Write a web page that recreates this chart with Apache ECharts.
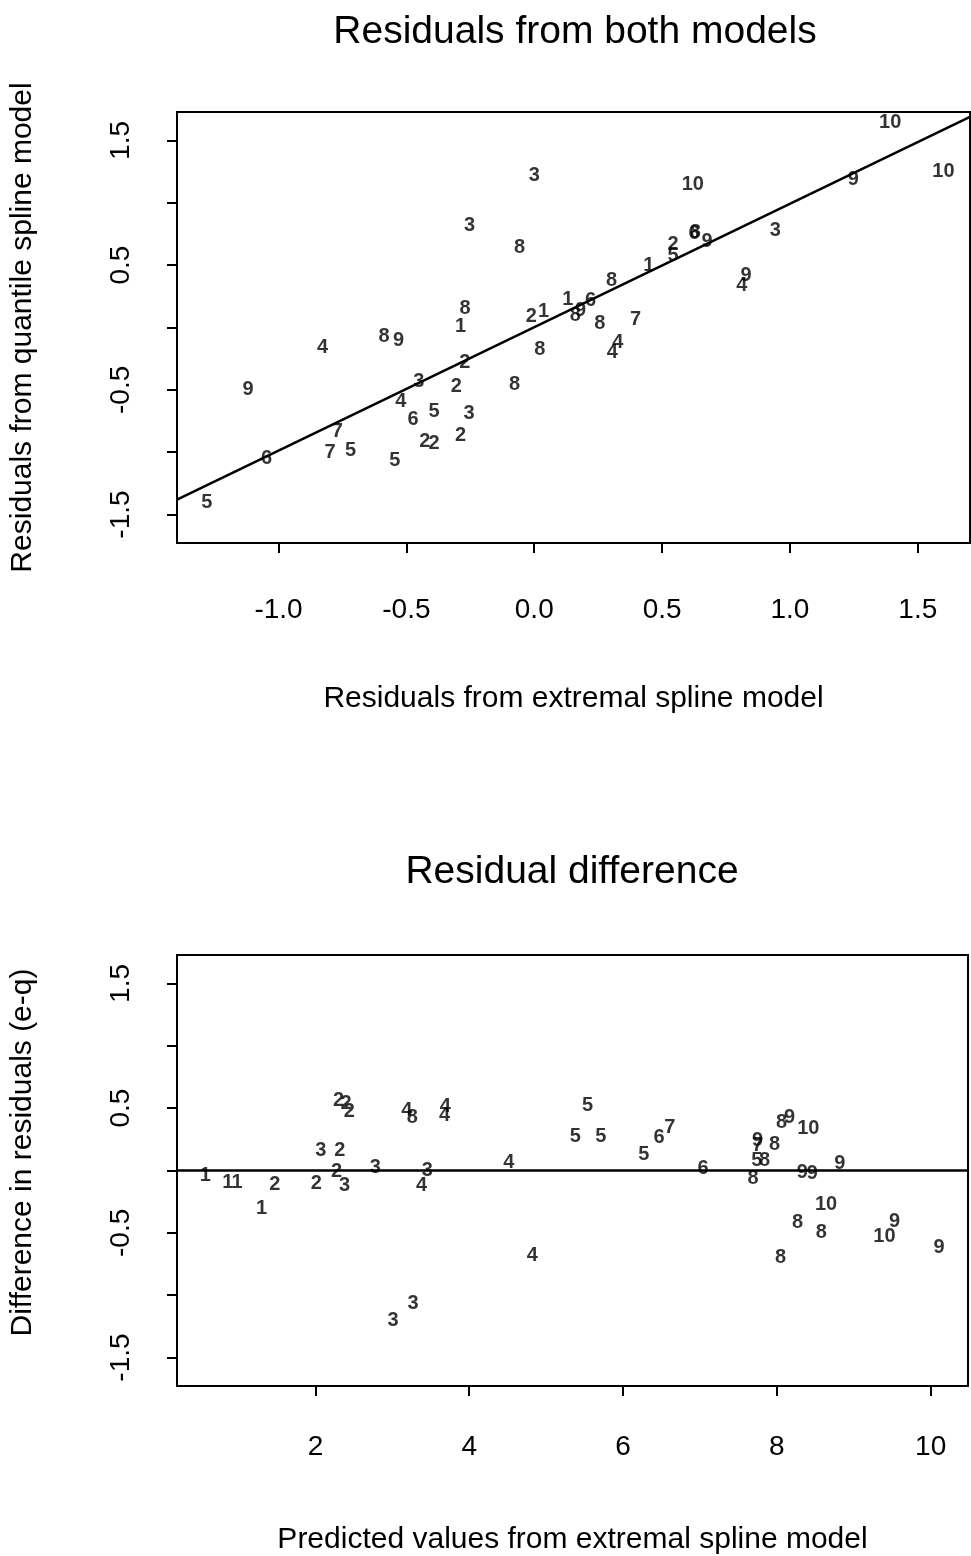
<!DOCTYPE html>
<html><head><meta charset="utf-8">
<script src="https://cdn.jsdelivr.net/npm/echarts@6/dist/echarts.min.js"></script>
<style>html,body{margin:0;padding:0;background:#fff}#c{width:971px;height:1556px}</style>
</head><body><div id="c"></div>
<script>
// ---- Top panel: residuals from both models ----
const topLabels = ["3","3","8","8","1","2","1","4","8","9","9","2","3","2","8","8","4","5","3","6","2","2","2","7","7","5","5","6","5","10","10","10","9","3","8","6","9","2","5","1","8","9","4","1","8","9","6","8","7","4","4"];
const topX = [0.0,-0.253,-0.057,-0.271,-0.288,-0.011,0.036,-0.828,-0.587,-0.531,-1.119,-0.272,-0.451,-0.305,-0.077,0.022,-0.522,-0.392,-0.255,-0.474,-0.428,-0.392,-0.288,-0.77,-0.798,-0.718,-0.545,-1.047,-1.28,1.392,1.60,0.62,1.248,0.943,0.63,0.625,0.676,0.543,0.543,0.448,0.302,0.828,0.812,0.131,0.161,0.181,0.22,0.256,0.396,0.327,0.305];
const topY = [1.22,0.82,0.645,0.155,0.01,0.09,0.13,-0.16,-0.075,-0.108,-0.496,-0.28,-0.434,-0.474,-0.456,-0.18,-0.59,-0.67,-0.689,-0.737,-0.911,-0.93,-0.866,-0.83,-1.0,-0.99,-1.07,-1.053,-1.407,1.642,1.25,1.146,1.19,0.777,0.764,0.755,0.688,0.664,0.576,0.495,0.38,0.415,0.334,0.228,0.093,0.134,0.214,0.035,0.067,-0.12,-0.2];
const topLineX = [-1.397, 1.704];
const topLineY = [-1.380, 1.688];
const topXTicks = [-1.0,-0.5,0.0,0.5,1.0,1.5];
const topYTicks = [-1.5,-1.0,-0.5,0.0,0.5,1.0,1.5];
const topYLabels = [-1.5,-0.5,0.5,1.5];

// ---- Bottom panel: residual difference ----
const botLabels = ["1","1","1","2","1","2","3","2","2","3","2","2","2","3","4","8","4","4","3","4","3","3","4","4","5","5","5","5","6","7","6","8","9","10","9","7","8","5","8","8","9","9","9","10","8","8","9","10","9","8"];
const botX = [0.568,0.862,0.98,1.473,1.3,2.01,2.07,2.317,2.274,2.38,2.3,2.40,2.44,2.78,3.19,3.26,3.69,3.68,3.456,3.38,3.27,3.01,4.516,4.82,5.54,5.38,5.71,6.27,6.47,6.61,7.04,8.06,8.165,8.41,7.75,7.75,7.97,7.74,7.84,7.69,8.33,8.46,8.82,8.64,8.27,8.58,9.53,9.40,10.11,8.05];
const botY = [-0.04,-0.093,-0.093,-0.115,-0.306,-0.101,0.16,0.164,-0.008,-0.12,0.563,0.537,0.47,0.026,0.48,0.425,0.51,0.44,0.0,-0.12,-1.07,-1.2,0.066,-0.678,0.519,0.27,0.27,0.125,0.266,0.346,0.013,0.385,0.425,0.338,0.24,0.2,0.205,0.08,0.08,-0.067,-0.013,-0.02,0.058,-0.274,-0.42,-0.5,-0.405,-0.53,-0.62,-0.70];
const botLineX = [0.2, 10.486];
const botLineY = [0, 0];
const botXTicks = [2,4,6,8,10];
const botYTicks = [-1.5,-1.0,-0.5,0.0,0.5,1.0,1.5];
const botYLabels = [-1.5,-0.5,0.5,1.5];

const FONT = '"Liberation Sans", Arial, Helvetica, sans-serif';
const pts = (xs, ys, ls) => xs.map((x, i) => [x, ys[i], ls[i]]);
const linePts = (xs, ys) => xs.map((x, i) => [x, ys[i]]);

function xAxisDef(grid, min, max, ticks, fmt, name, margin, gap) {
  return {
    type: 'value', gridIndex: grid, min: min, max: max,
    axisLine: {show: false, onZero: false}, splitLine: {show: false},
    axisTick: {show: true, customValues: ticks, length: 10, lineStyle: {color: '#000', width: 2}},
    axisLabel: {customValues: ticks, formatter: fmt, margin: margin, fontSize: 28, color: '#000', fontFamily: FONT},
    name: name, nameLocation: 'middle', nameGap: gap,
    nameTextStyle: {fontSize: 30, color: '#000', fontFamily: FONT}
  };
}
function yAxisDef(grid, min, max, ticks, labels, name, namePad) {
  return {
    type: 'value', gridIndex: grid, min: min, max: max,
    axisLine: {show: false, onZero: false}, splitLine: {show: false},
    axisTick: {show: true, customValues: ticks, length: 10, lineStyle: {color: '#000', width: 2}},
    axisLabel: {customValues: labels, formatter: v => v.toFixed(1), rotate: 90, margin: 42, fontSize: 28, color: '#000', fontFamily: FONT},
    name: name, nameLocation: 'middle', nameGap: 139,
    nameTextStyle: {fontSize: 30, color: '#000', fontFamily: FONT, padding: namePad}
  };
}
const labelStyle = {show: true, position: 'inside', formatter: p => p.data[2], color: '#000', textBorderWidth: 0, fontSize: 20, fontWeight: 'bold', fontFamily: FONT};

const chart = echarts.init(document.getElementById('c'), null, {renderer: 'canvas'});
chart.setOption({
  animation: false,
  backgroundColor: '#fff',
  graphic: [
    {type: 'text', x: 575, y: 32, style: {text: 'Residuals from both models', fontSize: 39, fontFamily: FONT, fill: '#000', textAlign: 'center', textVerticalAlign: 'middle'}},
    {type: 'text', x: 572, y: 872, style: {text: 'Residual difference', fontSize: 39, fontFamily: FONT, fill: '#000', textAlign: 'center', textVerticalAlign: 'middle'}}
  ],
  grid: [
    {left: 176, top: 112, width: 794, height: 431, show: true, borderColor: '#000', borderWidth: 2, backgroundColor: 'transparent'},
    {left: 176, top: 955, width: 792, height: 433, show: true, borderColor: '#000', borderWidth: 2, backgroundColor: 'transparent'}
  ],
  xAxis: [
    xAxisDef(0, -1.397, 1.704, topXTicks, v => v.toFixed(1), 'Residuals from extremal spline model', 53, 141),
    xAxisDef(1, 0.2, 10.486, botXTicks, v => String(v), 'Predicted values from extremal spline model', 47, 139)
  ],
  yAxis: [
    yAxisDef(0, -1.728, 1.728, topYTicks, topYLabels, 'Residuals from quantile spline model', 0),
    yAxisDef(1, -1.728, 1.728, botYTicks, botYLabels, 'Difference in residuals (e-q)', [0, 0, 0, 36])
  ],
  series: [
    {type: 'line', xAxisIndex: 0, yAxisIndex: 0, data: linePts(topLineX, topLineY), symbol: 'none', silent: true, lineStyle: {color: '#000', width: 2.5}},
    {type: 'scatter', xAxisIndex: 0, yAxisIndex: 0, data: pts(topX, topY, topLabels), symbolSize: 1, itemStyle: {color: 'rgba(0,0,0,0)'}, label: labelStyle, silent: true},
    {type: 'line', xAxisIndex: 1, yAxisIndex: 1, data: linePts(botLineX, botLineY), symbol: 'none', silent: true, lineStyle: {color: '#000', width: 2.5}},
    {type: 'scatter', xAxisIndex: 1, yAxisIndex: 1, data: pts(botX, botY, botLabels), symbolSize: 1, itemStyle: {color: 'rgba(0,0,0,0)'}, label: labelStyle, silent: true}
  ]
});
</script>
</body></html>
